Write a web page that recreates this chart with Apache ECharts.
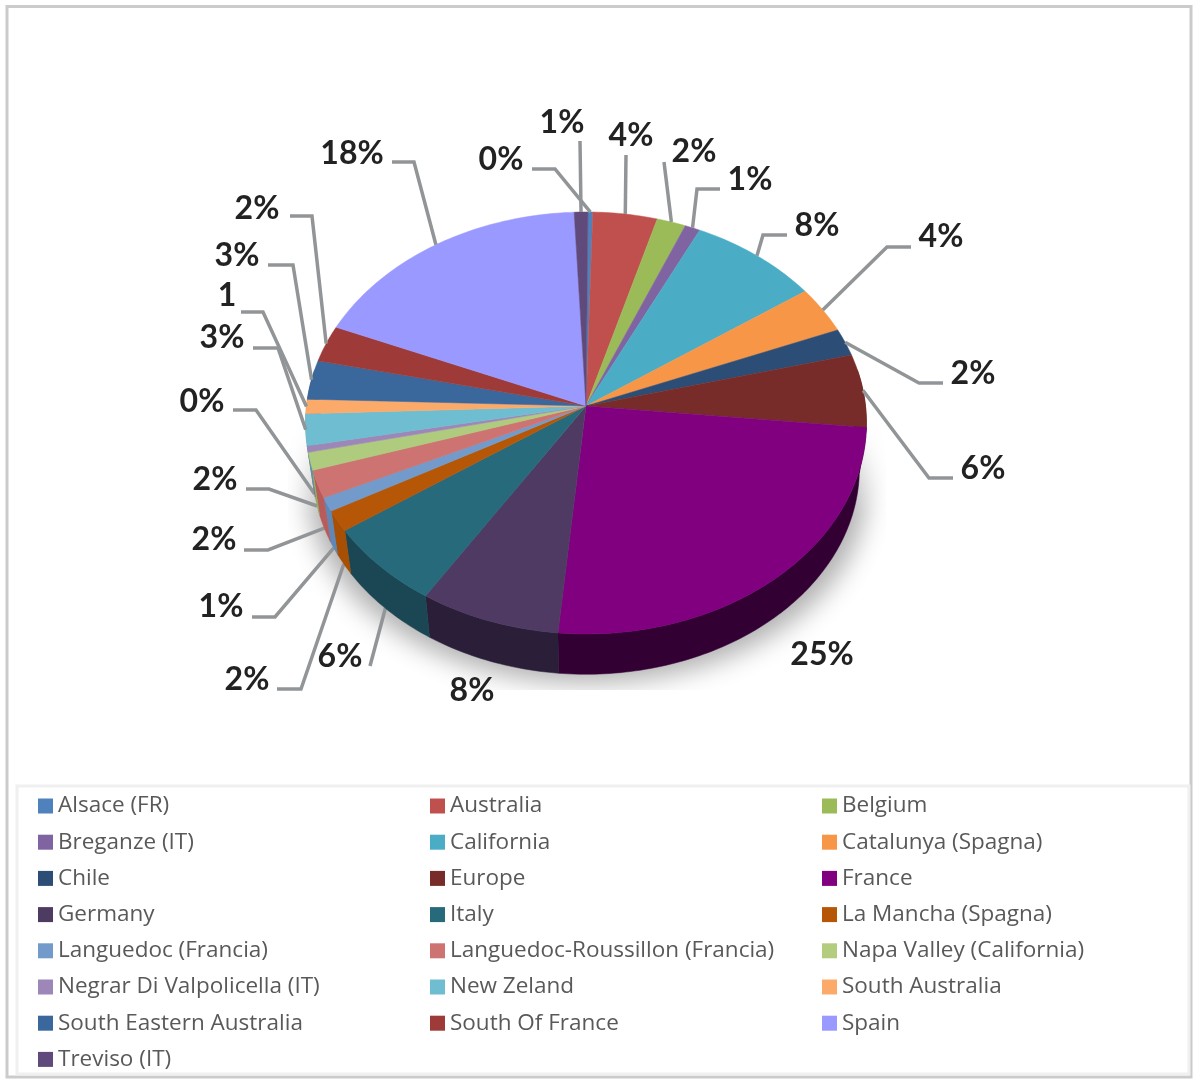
<!DOCTYPE html>
<html>
<head>
<meta charset="utf-8">
<style>html,body{margin:0;padding:0;background:#fff}#c{width:1200px;height:1084px}</style>
<script src="https://cdn.jsdelivr.net/npm/echarts@6/dist/echarts.min.js"></script>
</head>
<body>
<div id="c"></div>
<script>
// ---- data ----
const categories = ['Alsace (FR)','Australia','Belgium','Breganze (IT)','California','Catalunya (Spagna)','Chile','Europe','France','Germany','Italy','La Mancha (Spagna)','Languedoc (Francia)','Languedoc-Roussillon (Francia)','Napa Valley (California)','Negrar Di Valpolicella (IT)','New Zeland','South Australia','South Eastern Australia','South Of France','Spain','Treviso (IT)'];
const shares = [0.3,4.0,1.8,0.95,8.1,3.6,2.1,5.6,24.8,7.5,6.4,1.6,1.05,2.1,1.35,0.5,2.4,1.1,3.0,2.8,17.9,0.85];
const labelTexts = ['0%','4%','2%','1%','8%','4%','2%','6%','25%','8%','6%','2%','1%','2%','2%','0%','3%','1','3%','2%','18%','1%'];
const startOffset = 0.12; // share position of the first slice, clockwise from 12 o'clock

// ---- styles and layout ----
const topColors = ['#4F81BD','#C0504D','#9BBB59','#8064A2','#4BACC6','#F79646','#2C4D75','#772C2A','#800080','#4F3A63','#276A7C','#B65708','#729ACA','#CD7371','#AFCB7D','#9D87B8','#6EBDD1','#FCAA6A','#3A679C','#9E3A37','#9999FF','#604A7B'];
const wallColors = ['#3B6190','#8F3B39','#748C43','#604B7A','#38818F','#B97034','#213958','#4A1A18','#330033','#2A1E38','#1A4753','#A64F05','#5F87B8','#B85B59','#8FAE5F','#7A6890','#5796A8','#C9884F','#2B4D75','#762B29','#7070C0','#483759'];
const legendColors = ['#4F81BD','#C0504D','#9BBB59','#8064A2','#4BACC6','#F79646','#2C4D75','#772C2A','#800080','#4D3B62','#276A7C','#B65708','#729ACA','#CD7371','#B4CC7E','#9D87B8','#6EBDD1','#FCAA6A','#3A679C','#9E3A37','#9999FF','#604A7B'];
const labelCenters = [[501,160],[631,136],[694,152],[750,180],[817,226],[941,237],[973,374],[983,469],[822,655],[472,691],[340,657],[247,680],[221,607],[214,540],[215,480],[202,402],[222,338],[227,296],[237,256],[257,209],[352,154],[562,123]];
// leader polyline points from the label side, the last point is added from the slice's rim
const leaderBends = [
 [[532,169],[555,169]],[[626,155]],[[664,162]],[[720,189],[697,189]],[[787,235],[763,235]],[[911,247],[887,247]],
 [[943,383],[919,383]],[[953,478],[929,478]],null,null,[[370,666]],[[277,689],[301,689]],[[252,617],[275,617]],
 [[244,550],[268,550]],[[246,489],[269,489]],[[233,410],[256,410]],[[253,348],[278,348]],[[241,312],[263,312]],
 [[268,265],[293,265]],[[290,216],[312,216]],[[392,162],[414,162]],[[580,141]]
];
const APEX = {x:586, y:406}, A = 279.5, B = 209.6, K = 0.0805;
const WALL_SCALE = 0.975, WALL_DROP = 46;

function rim(deg, scale, drop) {
  const t = deg * Math.PI / 180, u = Math.sin(t), v = -Math.cos(t), w = 1 - K * v;
  return [APEX.x + scale * A * u / w, APEX.y + scale * B * v / w + drop];
}
function arc(a0, a1, scale, drop) {
  const pts = [], n = Math.max(2, Math.ceil(Math.abs(a1 - a0)));
  for (let i = 0; i <= n; i++) pts.push(rim(a0 + (a1 - a0) * i / n, scale, drop));
  return pts;
}
const total = shares.reduce((a, b) => a + b, 0);
let cum = startOffset;
const spans = shares.map(s => { const r = [cum, cum + s]; cum += s; return r; });

function sliceItem(i) {
  return function (params, api) {
    const a0 = api.value(0) / total * 360, a1 = api.value(1) / total * 360, mid = (a0 + a1) / 2;
    const kids = [];
    const w0 = Math.max(a0, 80), w1 = Math.min(a1, 280);
    if (w1 > w0) {
      kids.push({type:'polygon', z2:2, shape:{points: arc(w0, w1, 1, 0).concat(arc(w1, w0, WALL_SCALE, WALL_DROP))},
        style:{fill: wallColors[i], stroke: wallColors[i], lineWidth: 0.5}});
    }
    kids.push({type:'polygon', z2:5, shape:{points: [[APEX.x, APEX.y]].concat(arc(a0, a1, 1, 0))},
      style:{fill: topColors[i], stroke: topColors[i], lineWidth: 0.5}});
    if (leaderBends[i]) {
      // leaders of the lower-left slices run to the lower rim and pass behind the pie
      const lower = mid > 200 && mid < 260;
      kids.push({type:'polyline', z2: lower ? 1 : 8,
        shape:{points: leaderBends[i].concat([lower ? rim(mid, WALL_SCALE, WALL_DROP) : rim(mid, 1, 0)])},
        style:{fill:'none', stroke:'#929597', lineWidth:3.5, lineJoin:'miter'}});
    }
    kids.push({type:'text', z2:9, style:{text: labelTexts[i], x: labelCenters[i][0], y: labelCenters[i][1],
      align:'center', verticalAlign:'middle', fill:'#222222', font:'bold 32px Lato'}});
    return {type:'group', children: kids};
  };
}

const shadowSeries = {
  type:'custom', name:'shadow', coordinateSystem:'none', silent:true, animation:false, z:1,
  data:[[0]],
  renderItem: function () {
    return {type:'group', children:[
      {type:'ellipse', z2:0, shape:{cx:587-3000, cy:490, rx:279, ry:193},
       clipPath:{type:'rect', shape:{x:288, y:300, width:598, height:390}},
       style:{fill:'#000', shadowBlur:26, shadowColor:'#B0B0B0', shadowOffsetX:3000}},
      {type:'rect', z2:0.5, shape:{x:260, y:300, width:660, height:215},
       style:{fill:{type:'linear', x:0, y:0, x2:0, y2:1, colorStops:[{offset:0, color:'rgba(255,255,255,1)'},{offset:0.5, color:'rgba(255,255,255,1)'},{offset:1, color:'rgba(255,255,255,0)'}]}}}
    ]};
  }
};

const sliceSeries = categories.map((name, i) => ({
  type:'custom', name, coordinateSystem:'none', silent:true, animation:false, z:2,
  itemStyle:{color: legendColors[i]},
  data:[spans[i]],
  renderItem: sliceItem(i)
}));

const columns = [0, 1, 2].map(c => categories.map((n, i) => i).filter(i => i % 3 === c));
const legendLeft = [33, 425, 817];
const legends = columns.map((idx, c) => ({
  orient:'vertical', left: legendLeft[c], top: 788, icon:'rect', itemWidth:15, itemHeight:15, itemGap:10.2,
  selectedMode:false,
  textStyle:{color:'#595959', fontFamily:'Open Sans', fontSize:22.5, lineHeight:26},
  data: idx.map(i => ({name: categories[i], itemStyle:{color: legendColors[i]}}))
}));

const chart = echarts.init(document.getElementById('c'), null, {renderer:'canvas'});
chart.setOption({
  animation:false,
  backgroundColor:'#ffffff',
  legend: legends,
  graphic:[
    {type:'rect', z:0, shape:{x:7, y:6.5, width:1184, height:1070.5}, style:{fill:'none', stroke:'#CBCBCB', lineWidth:3}},
    {type:'rect', z:0, shape:{x:17, y:786, width:1172, height:288}, style:{fill:'none', stroke:'#F0F0F0', lineWidth:3}}
  ],
  series:[shadowSeries].concat(sliceSeries)
});
</script>
</body>
</html>
